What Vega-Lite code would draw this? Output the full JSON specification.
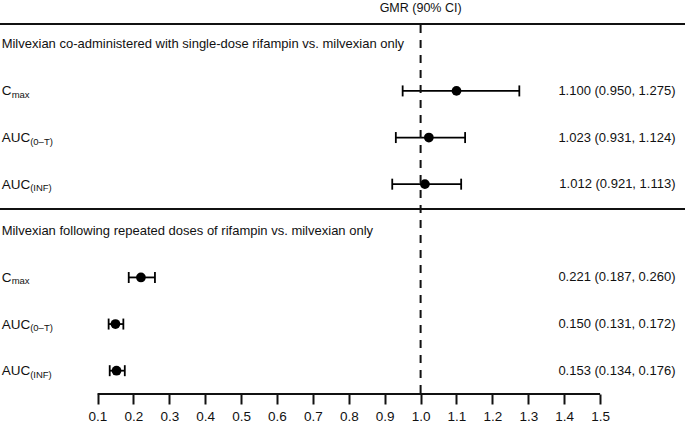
{
  "$schema": "https://vega.github.io/schema/vega-lite/v6.json",
  "width": 685,
  "height": 394,
  "autosize": {"type": "none"},
  "padding": {"left": 0, "top": 0, "right": 0, "bottom": 33},
  "background": "white",
  "config": {
    "view": {"stroke": null},
    "font": "Liberation Sans",
    "text": {"color": "#111", "font": "Liberation Sans"}
  },
  "datasets": {
    "rows": [
      {"row": 2, "base": "C", "sub": "max", "est": 1.100, "lo": 0.950, "hi": 1.275, "ci": "1.100 (0.950, 1.275)"},
      {"row": 3, "base": "AUC", "sub": "(0–T)", "est": 1.023, "lo": 0.931, "hi": 1.124, "ci": "1.023 (0.931, 1.124)"},
      {"row": 4, "base": "AUC", "sub": "(INF)", "est": 1.012, "lo": 0.921, "hi": 1.113, "ci": "1.012 (0.921, 1.113)"},
      {"row": 6, "base": "C", "sub": "max", "est": 0.221, "lo": 0.187, "hi": 0.260, "ci": "0.221 (0.187, 0.260)"},
      {"row": 7, "base": "AUC", "sub": "(0–T)", "est": 0.150, "lo": 0.131, "hi": 0.172, "ci": "0.150 (0.131, 0.172)"},
      {"row": 8, "base": "AUC", "sub": "(INF)", "est": 0.153, "lo": 0.134, "hi": 0.176, "ci": "0.153 (0.134, 0.176)"}
    ],
    "titles": [
      {"row": 1, "title": "Milvexian co-administered with single-dose rifampin vs. milvexian only"},
      {"row": 5, "title": "Milvexian following repeated doses of rifampin vs. milvexian only"}
    ],
    "header": [{"label": "GMR (90% CI)"}],
    "refs": [{"ref": 1}]
  },
  "layer": [
    {
      "data": {"name": "rows"},
      "mark": {"type": "point", "filled": true, "shape": "circle", "size": 95, "color": "#000", "opacity": 1},
      "encoding": {
        "x": {"field": "est", "type": "quantitative",
          "scale": {"domain": [-0.1716, 1.7365], "nice": false, "zero": false},
          "axis": {"values": [0.1, 0.2, 0.3, 0.4, 0.5, 0.6, 0.7, 0.8, 0.9, 1.0, 1.1, 1.2, 1.3, 1.4, 1.5],
            "format": ".1f", "title": null, "grid": false, "domain": false,
            "tickSize": 10, "tickWidth": 2, "tickColor": "#111",
            "labelFontSize": 13.5, "labelColor": "#111", "labelPadding": 5,
            "labelFont": "Liberation Sans"}},
        "y": {"field": "row", "type": "quantitative",
          "scale": {"domain": [0.05, 8.5], "nice": false, "zero": false, "reverse": true},
          "axis": null}
      }
    },
    {
      "data": {"name": "rows"},
      "mark": {"type": "rule", "color": "#000", "strokeWidth": 1.8},
      "encoding": {
        "x": {"field": "lo", "type": "quantitative"},
        "x2": {"field": "hi"},
        "y": {"field": "row", "type": "quantitative"}
      }
    },
    {
      "data": {"name": "rows"},
      "mark": {"type": "tick", "orient": "vertical", "size": 11, "thickness": 1.8, "color": "#000", "opacity": 1},
      "encoding": {
        "x": {"field": "lo", "type": "quantitative"},
        "y": {"field": "row", "type": "quantitative"}
      }
    },
    {
      "data": {"name": "rows"},
      "mark": {"type": "tick", "orient": "vertical", "size": 11, "thickness": 1.8, "color": "#000", "opacity": 1},
      "encoding": {
        "x": {"field": "hi", "type": "quantitative"},
        "y": {"field": "row", "type": "quantitative"}
      }
    },
    {
      "data": {"name": "rows"},
      "mark": {"type": "text", "align": "right", "baseline": "middle", "fontSize": 13},
      "encoding": {
        "x": {"datum": 1.71, "type": "quantitative"},
        "y": {"field": "row", "type": "quantitative"},
        "text": {"field": "ci"}
      }
    },
    {
      "data": {"name": "rows"},
      "mark": {"type": "text", "align": "left", "baseline": "alphabetic", "fontSize": 13.5, "dy": 4.5},
      "encoding": {
        "x": {"datum": -0.167, "type": "quantitative"},
        "y": {"field": "row", "type": "quantitative"},
        "text": {"field": "base"}
      }
    },
    {
      "data": {"name": "rows"},
      "transform": [{"filter": "datum.base === 'C'"}],
      "mark": {"type": "text", "align": "left", "baseline": "alphabetic", "fontSize": 9.5, "dx": 10, "dy": 7},
      "encoding": {
        "x": {"datum": -0.167, "type": "quantitative"},
        "y": {"field": "row", "type": "quantitative"},
        "text": {"field": "sub"}
      }
    },
    {
      "data": {"name": "rows"},
      "transform": [{"filter": "datum.base === 'AUC'"}],
      "mark": {"type": "text", "align": "left", "baseline": "alphabetic", "fontSize": 9.5, "dx": 28.5, "dy": 7},
      "encoding": {
        "x": {"datum": -0.167, "type": "quantitative"},
        "y": {"field": "row", "type": "quantitative"},
        "text": {"field": "sub"}
      }
    },
    {
      "data": {"name": "titles"},
      "mark": {"type": "text", "align": "left", "baseline": "middle", "fontSize": 13},
      "encoding": {
        "x": {"datum": -0.167, "type": "quantitative"},
        "y": {"field": "row", "type": "quantitative"},
        "text": {"field": "title"}
      }
    },
    {
      "data": {"name": "header"},
      "mark": {"type": "text", "align": "center", "baseline": "middle", "fontSize": 12.5},
      "encoding": {
        "x": {"datum": 1, "type": "quantitative"},
        "y": {"datum": 0.22, "type": "quantitative"},
        "text": {"field": "label"}
      }
    },
    {
      "data": {"name": "refs"},
      "mark": {"type": "rule", "color": "#111", "strokeWidth": 2},
      "encoding": {
        "x": {"datum": -0.1716, "type": "quantitative"},
        "x2": {"datum": 1.7365},
        "y": {"datum": 0.565, "type": "quantitative"}
      }
    },
    {
      "data": {"name": "refs"},
      "mark": {"type": "rule", "color": "#111", "strokeWidth": 2},
      "encoding": {
        "x": {"datum": -0.1716, "type": "quantitative"},
        "x2": {"datum": 1.7365},
        "y": {"datum": 4.53, "type": "quantitative"}
      }
    },
    {
      "data": {"name": "refs"},
      "mark": {"type": "rule", "color": "#111", "strokeWidth": 2},
      "encoding": {
        "x": {"datum": 0.1, "type": "quantitative"},
        "x2": {"datum": 1.5},
        "y": {"datum": 8.5, "type": "quantitative"}
      }
    },
    {
      "data": {"name": "refs"},
      "mark": {"type": "rule", "color": "#111", "strokeWidth": 2, "strokeDash": [8, 7]},
      "encoding": {
        "x": {"field": "ref", "type": "quantitative"},
        "y": {"datum": 0.586, "type": "quantitative"},
        "y2": {"datum": 8.5}
      }
    }
  ]
}
